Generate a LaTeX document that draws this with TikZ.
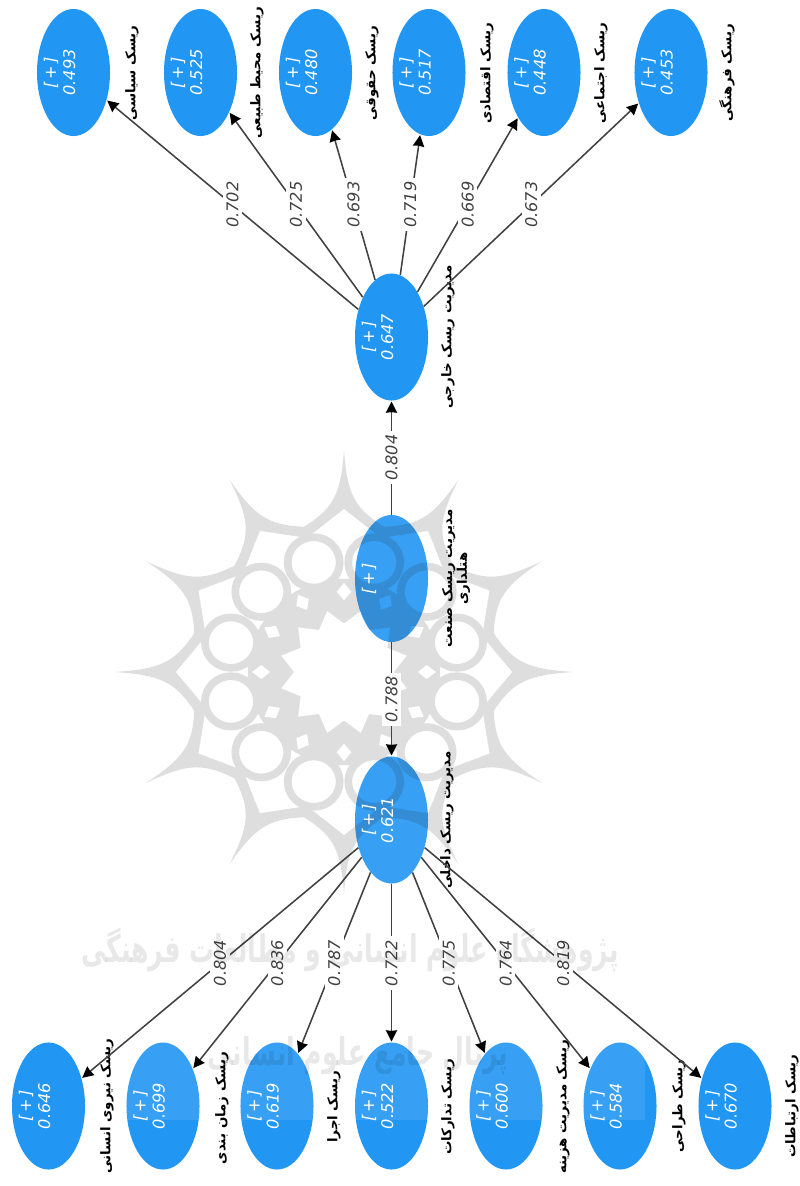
\documentclass[tikz,border=0pt]{standalone}
\usepackage{fontspec}
\usepackage{xcolor}
\usepackage{tikz}
\usetikzlibrary{arrows.meta, shapes.geometric}
\setmainfont{DejaVu Sans}
\newfontfamily\arabicfont[Script=Arabic]{DejaVu Sans}
\TeXXeTstate=1
\definecolor{cblue}{RGB}{33,150,243}
\definecolor{cmark}{RGB}{219,219,219}
\definecolor{cmarktext}{RGB}{232,232,232}
\definecolor{cline}{RGB}{65,65,65}

\begin{document}
\begin{tikzpicture}[
    x=0.025cm, y=-0.025cm,
    >={Stealth[length=2.8mm, width=2.8mm, inset=0.4pt, color=black]},
    riskbox/.style={ellipse, fill=cblue, inner sep=0pt, minimum width=1.825cm, minimum height=3.175cm, blend mode=multiply},
    valtxt/.style={rotate=90, text=white, align=center, inner sep=0pt, font=\fontsize{11.5}{13.5}\selectfont\itshape},
    riskname/.style={rotate=90, text=black, align=center, inner sep=0pt, font=\fontsize{9.5}{10.5}\selectfont\arabicfont\bfseries},
    loadlbl/.style={rotate=90, fill=white, inner sep=2.5pt, text=cline, font=\fontsize{11.5}{13.5}\selectfont\itshape},
    link/.style={->, cline, line width=1.1pt, shorten >=0.5pt},
    marktxt/.style={blend mode=multiply, text=cmarktext, transform shape, xscale=0.66, font=\fontsize{27}{30}\selectfont\arabicfont\bfseries},
]
    \useasboundingbox (0,0) rectangle (800,1186);

    % Rosette behind the model
    \begin{scope}[shift={(344,672)}, yscale=0.97]
        \fill[cmark] (0:229) \foreach \a in {0,30,...,330} {
            .. controls ({\a+1}:185) and ({\a+3}:170) .. ({\a+15}:155)
            .. controls ({\a+27}:170) and ({\a+29}:185) .. ({\a+30}:229)
        } -- cycle;
        \fill[white] (0:168) \foreach \a in {0,30,...,330} {
            -- ({\a+15}:143) -- ({\a+30}:168)
        } -- cycle;
        \fill[cmark] (0,0) circle (96);
        \foreach \a in {15,45,...,345} {
            \draw[cmark, fill=white, line width=5.5pt] (\a:117) circle (26);
        }
        \foreach \a in {0,30,...,330} {
            \fill[white] (\a:74) -- ({\a+5}:83) -- (\a:92) -- ({\a-5}:83) -- cycle;
        }
        \fill[white] (15:65) \foreach \a in {15,45,...,345} {
            -- ({\a+15}:50) -- ({\a+30}:65)
        } -- cycle;
    \end{scope}

    % External risk dimensions
    \node[riskbox] (siyasi) at (73.5,72.5) {};
    \node[riskbox] (mohit) at (200.5,72.5) {};
    \node[riskbox] (hoghoghi) at (315.5,72.5) {};
    \node[riskbox] (eghtesadi) at (429,72.5) {};
    \node[riskbox] (ejtemaei) at (544,72.5) {};
    \node[riskbox] (farhangi) at (671,72.5) {};

    % The three management constructs
    \node[riskbox] (khareji) at (391.5,337) {};
    \node[riskbox] (hotel) at (391.5,578.5) {};
    \node[riskbox] (dakheli) at (391.5,820) {};

    % Internal risk dimensions
    \node[riskbox] (niroo) at (48.5,1106) {};
    \node[riskbox] (zaman) at (163,1106) {};
    \node[riskbox] (ejra) at (277,1106) {};
    \node[riskbox] (tadarokat) at (391.5,1106) {};
    \node[riskbox] (hazine) at (506,1106) {};
    \node[riskbox] (tarahi) at (620,1106) {};
    \node[riskbox] (ertebat) at (735,1106) {};

    % Washed out part of the page
    \fill[white, opacity=0.1] (100,440) rectangle (645,1120);

    % Values inside the ellipses
    \node[valtxt] (vsiyasi) at (69,72.5) {[\,+\,]\\0.493\\~};
    \node[valtxt] (vmohit) at (196,72.5) {[\,+\,]\\0.525\\~};
    \node[valtxt] (vhoghoghi) at (311,72.5) {[\,+\,]\\0.480\\~};
    \node[valtxt] (veghtesadi) at (424.5,72.5) {[\,+\,]\\0.517\\~};
    \node[valtxt] (vejtemaei) at (539.5,72.5) {[\,+\,]\\0.448\\~};
    \node[valtxt] (vfarhangi) at (666.5,72.5) {[\,+\,]\\0.453\\~};
    \node[valtxt] (vkhareji) at (387,337) {[\,+\,]\\0.647\\~};
    \node[valtxt] (vhotel) at (387,578.5) {[\,+\,]\\~\\~};
    \node[valtxt] (vdakheli) at (387,820) {[\,+\,]\\0.621\\~};
    \node[valtxt] (vniroo) at (44,1106) {[\,+\,]\\0.646\\~};
    \node[valtxt] (vzaman) at (158.5,1106) {[\,+\,]\\0.699\\~};
    \node[valtxt] (vejra) at (272.5,1106) {[\,+\,]\\0.619\\~};
    \node[valtxt] (vtadarokat) at (387,1106) {[\,+\,]\\0.522\\~};
    \node[valtxt] (vhazine) at (501.5,1106) {[\,+\,]\\0.600\\~};
    \node[valtxt] (vtarahi) at (615.5,1106) {[\,+\,]\\0.584\\~};
    \node[valtxt] (vertebat) at (730.5,1106) {[\,+\,]\\0.670\\~};

    % Names beside the ellipses
    \node[riskname] (nsiyasi) at (132,73) {\beginR ریسک سیاسی\endR};
    \node[riskname] (nmohit) at (257,73) {\beginR ریسک محیط طبیعی\endR};
    \node[riskname] (nhoghoghi) at (372,73) {\beginR ریسک حقوقی\endR};
    \node[riskname] (neghtesadi) at (487,73) {\beginR ریسک اقتصادی\endR};
    \node[riskname] (nejtemaei) at (601,73) {\beginR ریسک اجتماعی\endR};
    \node[riskname] (nfarhangi) at (727,73) {\beginR ریسک فرهنگی\endR};
    \node[riskname] (nkhareji) at (448,337) {\beginR مدیریت ریسک خارجی\endR};
    \node[riskname] (nhotel) at (456,578.5) {\beginR مدیریت ریسک صنعت\endR\\\beginR هتلداری\endR};
    \node[riskname] (ndakheli) at (447,820) {\beginR مدیریت ریسک داخلی\endR};
    \node[riskname] (nniroo) at (107,1106) {\beginR ریسک نیروی انسانی\endR};
    \node[riskname] (nzaman) at (222,1108) {\beginR ریسک زمان بندی\endR};
    \node[riskname] (nejra) at (334,1107) {\beginR ریسک اجرا\endR};
    \node[riskname] (ntadarokat) at (448,1107) {\beginR ریسک تدارکات\endR};
    \node[riskname] (nhazine) at (563,1107) {\beginR ریسک مدیریت هزینه\endR};
    \node[riskname] (ntarahi) at (679,1106) {\beginR ریسک طراحی\endR};
    \node[riskname] (nertebat) at (792,1106) {\beginR ریسک ارتباطات\endR};

    % Links of the external side
    \draw[link] (khareji) -- node[loadlbl] {0.702} (siyasi);
    \draw[link] (khareji) -- node[loadlbl] {0.725} (mohit);
    \draw[link] (khareji) -- node[loadlbl] {0.693} (hoghoghi);
    \draw[link] (khareji) -- node[loadlbl] {0.719} (eghtesadi);
    \draw[link] (khareji) -- node[loadlbl] {0.669} (ejtemaei);
    \draw[link] (khareji) -- node[loadlbl] {0.673} (farhangi);

    % Links from the middle
    \draw[link] (hotel) -- node[loadlbl] {0.804} (khareji);
    \draw[link] (hotel) -- node[loadlbl] {0.788} (dakheli);

    % Links of the internal side
    \draw[link] (dakheli) -- node[loadlbl] {0.804} (niroo);
    \draw[link] (dakheli) -- node[loadlbl] {0.836} (zaman);
    \draw[link] (dakheli) -- node[loadlbl] {0.787} (ejra);
    \draw[link] (dakheli) -- node[loadlbl] {0.722} (tadarokat);
    \draw[link] (dakheli) -- node[loadlbl] {0.775} (hazine);
    \draw[link] (dakheli) -- node[loadlbl] {0.764} (tarahi);
    \draw[link] (dakheli) -- node[loadlbl] {0.819} (ertebat);

    % Printed over everything
    \node[marktxt] (mark1) at (350,950) {\beginR پژوهشگاه علوم انسانی و مطالعات فرهنگی\endR};
    \node[marktxt] (mark2) at (358,1056) {\beginR پرتال جامع علوم انسانی\endR};
\end{tikzpicture}
\end{document}
